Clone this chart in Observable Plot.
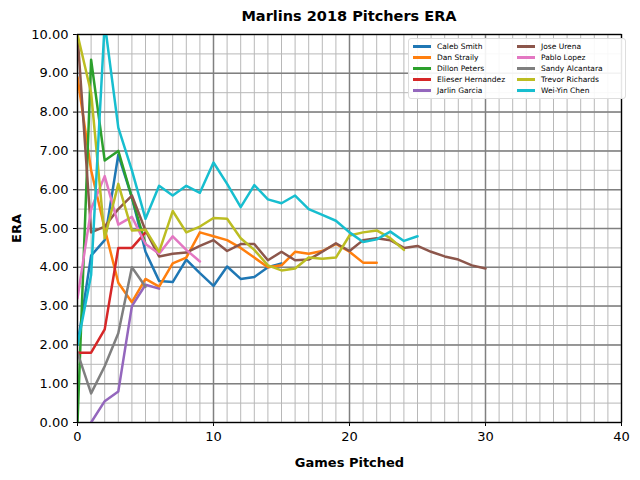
<!DOCTYPE html>
<html><head><meta charset="utf-8">
<script src="https://cdn.jsdelivr.net/npm/d3@7"></script>
<script src="https://cdn.jsdelivr.net/npm/@observablehq/plot@0.6"></script>
<style>
body{margin:0;font-family:"DejaVu Sans",sans-serif;}
#wrap{position:relative;width:640px;height:480px;}
#title{position:absolute;top:8px;left:77px;width:544px;text-align:center;font-weight:bold;font-size:14.5px;}
#legend{position:absolute;top:38px;left:408px;width:208px;background:rgba(255,255,255,0.9);border:1px solid #ddd;border-radius:3px;padding:3px 4px;display:grid;grid-template-columns:1fr 1fr;font-size:7.5px;row-gap:2px;}
#legend div{display:flex;align-items:center;}
#legend span.sw{display:inline-block;width:18px;height:2.5px;margin-right:6px;}
</style></head><body>
<div id="wrap"><div id="title">Marlins 2018 Pitchers ERA</div><div id="legend"></div></div>
<script>
const names=["Caleb Smith","Dan Straily","Dillon Peters","Elieser Hernandez","Jarlin Garcia","Jose Urena","Pablo Lopez","Sandy Alcantara","Trevor Richards","Wei-Yin Chen"];
const colors=["#1f77b4","#ff7f0e","#2ca02c","#d62728","#9467bd","#8c564b","#e377c2","#7f7f7f","#bcbd22","#17becf"];
const starts=[0,0,0,0,1,0,0,0,0,0];
const eras=[
[2.0,4.3,4.7,6.9,5.8,4.4,3.65,3.62,4.2,3.85,3.52,4.02,3.7,3.75,4.0,4.1],
[8.9,6.5,5.0,3.6,3.1,3.7,3.5,4.1,4.25,4.9,4.8,4.7,4.5,4.25,4.0,4.05,4.4,4.35,4.42,4.6,4.4,4.12,4.12],
[0,9.35,6.75,7.0,5.8,4.6],
[1.8,1.8,2.4,4.5,4.5,4.9],
[0,0.55,0.8,3.0,3.55,3.45],
[10,4.9,5.05,5.5,5.85,4.95,4.28,4.35,4.38,4.55,4.7,4.42,4.6,4.6,4.18,4.4,4.18,4.2,4.4,4.62,4.42,4.7,4.75,4.7,4.5,4.55,4.4,4.28,4.2,4.05,3.97],
[3.2,5.5,6.35,5.1,5.3,4.6,4.35,4.8,4.45,4.15],
[1.8,0.75,1.45,2.3,4.0,3.5],
[10,8.5,4.75,6.15,4.95,4.97,4.4,5.45,4.9,5.05,5.27,5.25,4.75,4.45,4.05,3.92,3.97,4.25,4.22,4.25,4.82,4.9,4.95,4.75,4.45],
[2.0,3.8,10.3,7.6,6.5,5.25,6.1,5.85,6.1,5.92,6.7,6.15,5.55,6.12,5.75,5.65,5.85,5.5,5.35,5.2,4.9,4.65,4.72,4.92,4.68,4.8]
];
const rows=[];
names.forEach((n,i)=>eras[i].forEach((v,j)=>rows.push({name:n,g:starts[i]+j,era:v})));
const minorX=d3.range(0,41,1), majorX=d3.range(0,41,10);
const minorY=d3.range(0,10.01,0.5), majorY=d3.range(0,11,1);
const chart=Plot.plot({
 width:640,height:480,marginLeft:77,marginRight:19,marginTop:34,marginBottom:58,
 style:{fontFamily:"DejaVu Sans",fontSize:"13px",color:"#000"},
 x:{domain:[0,40],ticks:majorX,label:"Games Pitched",labelArrow:"none",labelAnchor:"center",labelOffset:44,tickSize:4},
 y:{domain:[0,10],ticks:majorY,tickFormat:d=>d.toFixed(2),label:"ERA",labelArrow:"none",labelAnchor:"center",labelOffset:66,tickSize:4},
 color:{domain:names,range:colors},
 marks:[
  Plot.ruleX(minorX,{stroke:"#b8b8b8",strokeWidth:1}),
  Plot.ruleY(minorY,{stroke:"#b8b8b8",strokeWidth:1}),
  Plot.ruleX(majorX,{stroke:"#808080",strokeWidth:1.5}),
  Plot.ruleY(majorY,{stroke:"#808080",strokeWidth:1.5}),
  Plot.line(rows,{x:"g",y:"era",stroke:"name",z:"name",strokeWidth:2.5,clip:true}),
  Plot.frame({stroke:"#000",strokeWidth:1.2})
 ]
});
d3.select(chart).selectAll("g[aria-label='x-axis label'] text, g[aria-label='y-axis label'] text").style("font-weight","bold").style("font-size","13px");
document.getElementById("wrap").prepend(chart);
const lg=document.getElementById("legend");
const order=[0,5,1,6,2,7,3,8,4,9];
order.forEach(i=>{const d=document.createElement("div");d.innerHTML=`<span class="sw" style="background:${colors[i]}"></span>${names[i]}`;lg.appendChild(d);});
</script></body></html>
